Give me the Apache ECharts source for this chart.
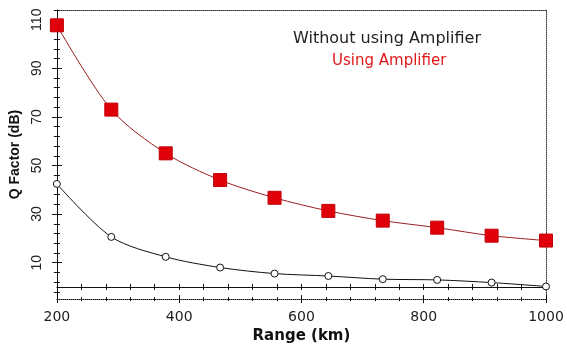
<!DOCTYPE html>
<html>
<head>
<meta charset="utf-8">
<script src="https://cdn.jsdelivr.net/npm/echarts@6/dist/echarts.min.js"></script>
<style>
  html, body { margin: 0; padding: 0; background: #fff; }
  #chart { width: 567px; height: 349px; }
</style>
</head>
<body>
<div id="chart"></div>
<script>
// Transmission range (km) and Q factor (dB) with and without the optical amplifier
const rangeKm = [200, 289, 378, 467, 556, 644, 733, 822, 911, 1000];
const qWithout = [42.4, 20.6, 12.4, 8.0, 5.5, 4.5, 3.2, 2.9, 1.8, 0.2];
const qWith = [107.7, 73.0, 55.0, 44.0, 36.7, 31.3, 27.3, 24.4, 21.1, 19.1];

const seriesNames = ['Without using Amplifier', 'Using Amplifier'];

// Axis ticks and labels
const yLabelValues = [10, 30, 50, 70, 90, 110];
const yMinorValues = [-2, 2, 6, 14, 18, 22, 26, 34, 38, 42, 46, 54, 58, 62, 66, 74, 78, 82, 86, 94, 98, 102, 106, 114];
const xRange = [200, 1000];
const yRange = [-5, 114];

const toPairs = (xs, ys) => xs.map((x, i) => [x, ys[i]]);

const sansNarrow = 'Liberation Sans, Arial, sans-serif';
const sansWide = 'DejaVu Sans, Verdana, sans-serif';
const ink = '#111';

function xAxisBase(extra) {
  return Object.assign({
    type: 'value', min: xRange[0], max: xRange[1], interval: 200,
    splitLine: { show: false },
    axisLabel: { show: false },
    axisTick: { show: false },
    minorTick: { show: false },
    axisLine: { show: false, onZero: false }
  }, extra);
}
function yAxisBase(extra) {
  return Object.assign({
    type: 'value', min: yRange[0], max: yRange[1],
    position: 'left',
    splitLine: { show: false },
    axisLabel: { show: false },
    axisTick: { show: false },
    axisLine: { show: false, onZero: false }
  }, extra);
}

const chart = echarts.init(document.getElementById('chart'), null, { renderer: 'canvas' });
chart.setOption({
  backgroundColor: '#fff',
  animation: false,
  grid: { left: 55, right: 21, top: 10, bottom: 48, containLabel: false },
  legend: [
    {
      data: [seriesNames[0]], icon: 'none', itemWidth: 0, itemHeight: 0,
      left: 288, top: 31, padding: 0,
      textStyle: { color: '#222', fontFamily: sansWide, fontSize: 16 }
    },
    {
      data: [seriesNames[1]], icon: 'none', itemWidth: 0, itemHeight: 0,
      left: 327, top: 54, padding: 0,
      textStyle: { color: '#e01818', fontFamily: sansWide, fontSize: 15 }
    }
  ],
  xAxis: [
    // bottom frame axis with labels
    xAxisBase({
      position: 'bottom',
      name: 'Range (km)', nameLocation: 'middle', nameGap: 27,
      nameTextStyle: { color: ink, fontFamily: sansWide, fontWeight: 'bold', fontSize: 15 },
      axisLine: { show: true, onZero: false, lineStyle: { color: ink, width: 1, type: [1, 1] } },
      axisTick: { show: true, inside: false, length: 4, lineStyle: { color: ink } },
      minorTick: { show: true, splitNumber: 5, length: 2, lineStyle: { color: ink } },
      axisLabel: {
        show: true, margin: 11, color: '#222', fontFamily: sansWide, fontSize: 14,
        formatter: (v) => String(v)
      }
    }),
    xAxisBase({
      position: 'bottom',
      axisTick: { show: true, inside: true, length: 4, lineStyle: { color: ink } },
      minorTick: { show: true, splitNumber: 5, length: 2, lineStyle: { color: ink } }
    }),
    // zero baseline with crossing ticks
    xAxisBase({
      position: 'bottom', interval: 40,
      axisLine: { show: true, onZero: true, onZeroAxisIndex: 0, lineStyle: { color: ink, width: 1 } },
      axisTick: { show: true, inside: true, length: 3, lineStyle: { color: ink } }
    }),
    xAxisBase({
      position: 'bottom', interval: 40,
      axisLine: { show: false, onZero: true, onZeroAxisIndex: 0 },
      axisTick: { show: true, inside: false, length: 3, lineStyle: { color: ink } }
    }),
    // top frame
    xAxisBase({
      position: 'top',
      axisLine: { show: true, onZero: false, lineStyle: { color: '#333', width: 1, type: [1, 1] } }
    })
  ],
  yAxis: [
    yAxisBase({
      name: 'Q Factor (dB)', nameLocation: 'middle', nameGap: 31,
      nameTextStyle: { color: ink, fontFamily: sansNarrow, fontWeight: 'bold', fontSize: 14 },
      axisLine: { show: true, onZero: false, lineStyle: { color: ink, width: 1 } },
      axisTick: { show: true, inside: false, length: 5, customValues: yLabelValues, lineStyle: { color: ink } },
      axisLabel: { show: true, rotate: 90, margin: 13, customValues: yLabelValues, color: '#222', fontFamily: sansNarrow, fontSize: 14 }
    }),
    yAxisBase({
      axisTick: { show: true, inside: true, length: 5, customValues: yLabelValues, lineStyle: { color: ink } }
    }),
    yAxisBase({
      axisTick: { show: true, inside: false, length: 3, customValues: yMinorValues, lineStyle: { color: ink } }
    }),
    yAxisBase({
      axisTick: { show: true, inside: true, length: 3, customValues: yMinorValues, lineStyle: { color: ink } }
    }),
    // right frame
    yAxisBase({
      position: 'right',
      axisLine: { show: true, onZero: false, lineStyle: { color: '#333', width: 1, type: [1, 1] } }
    })
  ],
  series: [
    {
      name: seriesNames[0], type: 'line', xAxisIndex: 0, yAxisIndex: 0,
      data: toPairs(rangeKm, qWithout),
      smooth: 0.3, clip: false,
      symbol: 'circle', symbolSize: 7,
      lineStyle: { color: '#111', width: 1 },
      itemStyle: { color: '#fff', borderColor: '#111', borderWidth: 1 },
      z: 3
    },
    {
      name: seriesNames[1], type: 'line', xAxisIndex: 0, yAxisIndex: 0,
      data: toPairs(rangeKm, qWith),
      smooth: 0.3, clip: false,
      symbol: 'rect', symbolSize: 13,
      lineStyle: { color: '#9a2020', width: 1 },
      itemStyle: { color: '#e0000a', borderColor: '#c00008', borderWidth: 1 },
      z: 4
    }
  ]
});
</script>
</body>
</html>
